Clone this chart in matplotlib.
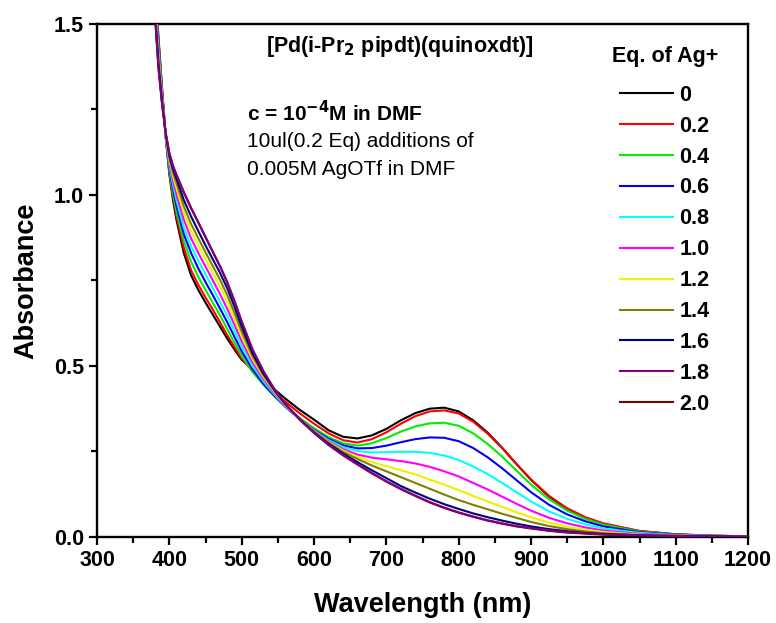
import numpy as np
import matplotlib.pyplot as plt

plt.rcParams['font.family'] = ['Liberation Sans', 'DejaVu Sans']

# wavelength grid (nm)
wl = [375, 380, 385, 390, 395, 400, 405, 410, 420, 430, 440, 450, 460, 470, 480, 490, 500,
      515, 530, 545, 560, 580, 600, 620, 640, 660, 680, 700, 720, 740, 760, 780, 800,
      820, 840, 860, 880, 900, 925, 950, 975, 1000, 1050, 1100, 1150, 1200]

eq_labels = ['0', '0.2', '0.4', '0.6', '0.8', '1.0', '1.2', '1.4', '1.6', '1.8', '2.0']
colors = ['#000000', '#ff0000', '#00ee00', '#0000ff', '#00ffff', '#ff00ff',
          '#f0f000', '#808000', '#000080', '#800080', '#800000']

# absorbance, one list per Ag+ equivalent
a_00 = [1.80, 1.62, 1.46, 1.31, 1.17, 1.06, 0.985, 0.925, 0.83, 0.765, 0.722, 0.685, 0.65, 0.615, 0.58, 0.548, 0.518,
        0.49, 0.46, 0.432, 0.405, 0.372, 0.343, 0.312, 0.293, 0.288, 0.297, 0.316, 0.341, 0.362, 0.375, 0.378, 0.367,
        0.341, 0.305, 0.261, 0.213, 0.167, 0.118, 0.082, 0.056, 0.038, 0.017, 0.008, 0.004, 0.002]
a_02 = [1.79, 1.61, 1.45, 1.305, 1.17, 1.065, 0.995, 0.935, 0.845, 0.78, 0.737, 0.70, 0.665, 0.628, 0.59, 0.555, 0.522,
        0.485, 0.452, 0.423, 0.396, 0.362, 0.331, 0.303, 0.283, 0.276, 0.286, 0.306, 0.331, 0.353, 0.367, 0.37, 0.361,
        0.337, 0.302, 0.26, 0.213, 0.168, 0.12, 0.084, 0.058, 0.04, 0.018, 0.008, 0.004, 0.002]
a_04 = [1.79, 1.60, 1.44, 1.30, 1.17, 1.07, 1.005, 0.95, 0.865, 0.805, 0.76, 0.722, 0.685, 0.648, 0.608, 0.568, 0.53,
        0.482, 0.445, 0.412, 0.383, 0.348, 0.318, 0.292, 0.274, 0.267, 0.274, 0.289, 0.308, 0.323, 0.332, 0.334, 0.325,
        0.303, 0.272, 0.235, 0.194, 0.153, 0.11, 0.077, 0.053, 0.036, 0.016, 0.007, 0.004, 0.002]
a_06 = [1.78, 1.59, 1.43, 1.295, 1.17, 1.078, 1.018, 0.967, 0.885, 0.83, 0.785, 0.745, 0.707, 0.668, 0.628, 0.585, 0.543,
        0.49, 0.448, 0.413, 0.381, 0.345, 0.313, 0.287, 0.268, 0.259, 0.26, 0.267, 0.277, 0.286, 0.291, 0.29, 0.28,
        0.26, 0.233, 0.201, 0.166, 0.131, 0.094, 0.066, 0.046, 0.031, 0.014, 0.007, 0.003, 0.002]
a_08 = [1.78, 1.58, 1.42, 1.29, 1.172, 1.086, 1.03, 0.983, 0.905, 0.85, 0.808, 0.768, 0.728, 0.688, 0.647, 0.602, 0.557,
        0.50, 0.455, 0.417, 0.383, 0.345, 0.311, 0.283, 0.263, 0.251, 0.247, 0.248, 0.249, 0.249, 0.246, 0.238, 0.225,
        0.206, 0.184, 0.158, 0.131, 0.104, 0.075, 0.053, 0.037, 0.025, 0.012, 0.006, 0.003, 0.002]
a_10 = [1.77, 1.57, 1.41, 1.285, 1.174, 1.094, 1.042, 1.0, 0.927, 0.873, 0.83, 0.79, 0.75, 0.71, 0.667, 0.62, 0.572,
        0.51, 0.462, 0.421, 0.385, 0.345, 0.31, 0.28, 0.257, 0.241, 0.232, 0.227, 0.222, 0.215, 0.205, 0.192, 0.177,
        0.158, 0.139, 0.118, 0.097, 0.077, 0.056, 0.04, 0.028, 0.019, 0.009, 0.005, 0.003, 0.001]
a_12 = [1.77, 1.56, 1.40, 1.28, 1.175, 1.102, 1.055, 1.018, 0.948, 0.895, 0.853, 0.812, 0.772, 0.732, 0.688, 0.638, 0.587,
        0.52, 0.468, 0.425, 0.387, 0.345, 0.309, 0.278, 0.253, 0.234, 0.219, 0.207, 0.195, 0.183, 0.168, 0.153, 0.137,
        0.12, 0.104, 0.088, 0.072, 0.058, 0.042, 0.03, 0.021, 0.015, 0.007, 0.004, 0.002, 0.001]
a_14 = [1.76, 1.55, 1.39, 1.275, 1.177, 1.108, 1.065, 1.033, 0.966, 0.915, 0.873, 0.832, 0.792, 0.752, 0.707, 0.655, 0.60,
        0.528, 0.473, 0.428, 0.388, 0.345, 0.308, 0.276, 0.249, 0.228, 0.209, 0.192, 0.175, 0.158, 0.141, 0.124, 0.108,
        0.094, 0.081, 0.068, 0.056, 0.044, 0.032, 0.023, 0.016, 0.011, 0.006, 0.004, 0.002, 0.001]
a_16 = [1.76, 1.54, 1.38, 1.27, 1.178, 1.115, 1.076, 1.046, 0.985, 0.937, 0.894, 0.852, 0.812, 0.772, 0.727, 0.673, 0.615,
        0.537, 0.478, 0.43, 0.389, 0.345, 0.306, 0.273, 0.244, 0.219, 0.195, 0.172, 0.149, 0.13, 0.112, 0.096, 0.082,
        0.069, 0.058, 0.048, 0.039, 0.031, 0.023, 0.017, 0.012, 0.009, 0.005, 0.003, 0.002, 0.001]
a_18 = [1.75, 1.53, 1.37, 1.265, 1.18, 1.122, 1.085, 1.058, 1.008, 0.962, 0.92, 0.877, 0.834, 0.792, 0.745, 0.69, 0.63,
        0.548, 0.485, 0.433, 0.39, 0.344, 0.305, 0.27, 0.24, 0.213, 0.187, 0.163, 0.141, 0.121, 0.102, 0.086, 0.072,
        0.06, 0.049, 0.04, 0.032, 0.026, 0.019, 0.014, 0.011, 0.008, 0.005, 0.003, 0.002, 0.001]
a_20 = [1.75, 1.53, 1.37, 1.265, 1.18, 1.121, 1.084, 1.057, 1.007, 0.961, 0.919, 0.876, 0.833, 0.791, 0.744, 0.689, 0.629,
        0.547, 0.484, 0.432, 0.389, 0.343, 0.304, 0.269, 0.239, 0.212, 0.186, 0.162, 0.14, 0.12, 0.101, 0.085, 0.071,
        0.059, 0.048, 0.039, 0.031, 0.025, 0.018, 0.013, 0.01, 0.007, 0.004, 0.002, 0.001, 0.001]

spectra = [a_00, a_02, a_04, a_06, a_08, a_10, a_12, a_14, a_16, a_18, a_20]

fig = plt.figure(figsize=(7.76, 6.23), dpi=100)
ax = fig.add_axes([0.125, 0.138, 0.839, 0.824])

for i in range(len(spectra)):
    z = 2 if i == 10 else 3 + i   # 2.0 sits under 1.8, as in the original
    ax.plot(wl, spectra[i], color=colors[i], lw=1.5, label=eq_labels[i], zorder=z)

ax.set_xlim(300, 1200)
ax.set_ylim(0, 1.5)
ax.set_xticks(np.arange(300, 1201, 100))
ax.set_xticks(np.arange(350, 1200, 100), minor=True)
ax.set_yticks([0.0, 0.5, 1.0, 1.5])
ax.set_yticks([0.25, 0.75, 1.25], minor=True)
ax.yaxis.set_major_formatter(plt.FormatStrFormatter('%.1f'))
ax.tick_params(which='major', direction='out', length=6, width=1.6, labelsize=15.5)
ax.tick_params(which='minor', direction='out', length=4, width=1.6)
for lab in ax.get_xticklabels() + ax.get_yticklabels():
    lab.set_fontweight('bold')
for s in ax.spines.values():
    s.set_linewidth(1.7)

ax.set_xlabel('Wavelength (nm)', fontsize=19.5, fontweight='bold', labelpad=15)
ax.set_ylabel('Absorbance', fontsize=19.5, fontweight='bold', labelpad=10)

ax.text(0.465, 0.955, r'[Pd(i-Pr$_\mathbf{2}$ pipdt)(quinoxdt)]', transform=ax.transAxes,
        ha='center', va='center', fontsize=15.5, fontweight='bold')
ax.text(0.23, 0.826, r'c = 10$^\mathbf{-4}$M in DMF', transform=ax.transAxes,
        ha='left', va='center', fontsize=15, fontweight='bold')
ax.text(0.23, 0.770, '10ul(0.2 Eq) additions of', transform=ax.transAxes,
        ha='left', va='center', fontsize=15)
ax.text(0.23, 0.715, '0.005M AgOTf in DMF', transform=ax.transAxes,
        ha='left', va='center', fontsize=15)

leg = ax.legend(loc='upper left', bbox_to_anchor=(0.774, 0.978), frameon=False,
                title='Eq. of Ag+', fontsize=15.5, title_fontsize=15.5,
                handlelength=2.45, handletextpad=0.28, labelspacing=0.46, borderpad=0)
leg.get_title().set_fontweight('bold')
leg._legend_box.sep = 13
for t in leg.get_texts():
    t.set_fontweight('bold')

plt.savefig('out.png', dpi=100)
